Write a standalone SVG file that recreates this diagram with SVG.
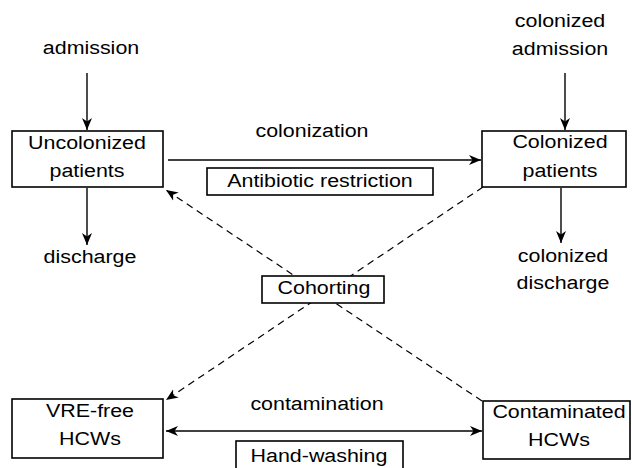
<svg xmlns="http://www.w3.org/2000/svg" width="632" height="468" viewBox="0 0 632 468">
<style>
text { font-family: "Liberation Sans", Arial, sans-serif; font-size: 18px; fill: #000; text-anchor: middle; }
.box { fill: #fff; stroke: #000; stroke-width: 1.6; }
.conn { fill: none; stroke: #000; stroke-width: 1.4; }
.dash { stroke-dasharray: 7 5; stroke-width: 1.2; }
</style>
<defs>
<marker id="ah" markerUnits="userSpaceOnUse" markerWidth="14" markerHeight="12" viewBox="-12 -6 14 12" refX="0" refY="0" orient="auto-start-reverse">
<path d="M0,0 L-12,-5 L-8.5,0 L-12,5 Z" fill="#000" stroke="none"/>
</marker>
</defs>
<rect width="632" height="468" fill="#fff"/>
<g id="connectors">
<line class="conn" x1="87" y1="73" x2="87" y2="130" marker-end="url(#ah)"/>
<line class="conn" x1="565" y1="73" x2="565" y2="130" marker-end="url(#ah)"/>
<line class="conn" x1="87" y1="188" x2="87" y2="245" marker-end="url(#ah)"/>
<line class="conn" x1="561" y1="188" x2="561" y2="243" marker-end="url(#ah)"/>
<line class="conn" x1="168" y1="160" x2="481" y2="160" marker-end="url(#ah)"/>
<line class="conn" x1="166" y1="431" x2="482" y2="431" marker-start="url(#ah)" marker-end="url(#ah)"/>
<line class="conn dash" x1="482" y1="401" x2="166" y2="190" marker-end="url(#ah)"/>
<line class="conn dash" x1="483" y1="187" x2="166" y2="400" marker-end="url(#ah)"/>
</g>
<g id="admission"><text transform="translate(91 54) scale(1.19 1)">admission</text></g>
<g id="colonized-admission"><text transform="translate(560 27) scale(1.19 1)">colonized</text><text transform="translate(560 55) scale(1.19 1)">admission</text></g>
<g id="uncolonized">
<rect class="box" x="12" y="131" width="151" height="56"/>
<text transform="translate(87 149) scale(1.19 1)">Uncolonized</text><text transform="translate(87 177) scale(1.19 1)">patients</text>
</g>
<g id="colonized">
<rect class="box" x="482" y="131" width="144" height="56"/>
<text transform="translate(560 148) scale(1.19 1)">Colonized</text><text transform="translate(560 177) scale(1.19 1)">patients</text>
</g>
<g id="colonization"><text transform="translate(312 137) scale(1.19 1)">colonization</text></g>
<g id="antibiotic">
<rect class="box" x="207" y="168" width="226" height="27"/>
<text transform="translate(320 187) scale(1.19 1)">Antibiotic restriction</text>
</g>
<g id="discharge"><text transform="translate(90 263) scale(1.19 1)">discharge</text></g>
<g id="colonized-discharge"><text transform="translate(563 262) scale(1.19 1)">colonized</text><text transform="translate(563 289) scale(1.19 1)">discharge</text></g>
<g id="cohorting">
<rect class="box" x="262" y="276" width="122" height="27"/>
<text transform="translate(324 294) scale(1.19 1)">Cohorting</text>
</g>
<g id="vre-free">
<rect class="box" x="12" y="399" width="151" height="59"/>
<text transform="translate(90 417) scale(1.19 1)">VRE-free</text><text transform="translate(90 445) scale(1.19 1)">HCWs</text>
</g>
<g id="contaminated">
<rect class="box" x="483" y="401" width="147" height="58"/>
<text transform="translate(559 418) scale(1.19 1)">Contaminated</text><text transform="translate(559 446) scale(1.19 1)">HCWs</text>
</g>
<g id="contamination"><text transform="translate(317 410) scale(1.19 1)">contamination</text></g>
<g id="hand-washing">
<rect class="box" x="236" y="441" width="167" height="32"/>
<text transform="translate(319 462) scale(1.19 1)">Hand-washing</text>
</g>
</svg>
